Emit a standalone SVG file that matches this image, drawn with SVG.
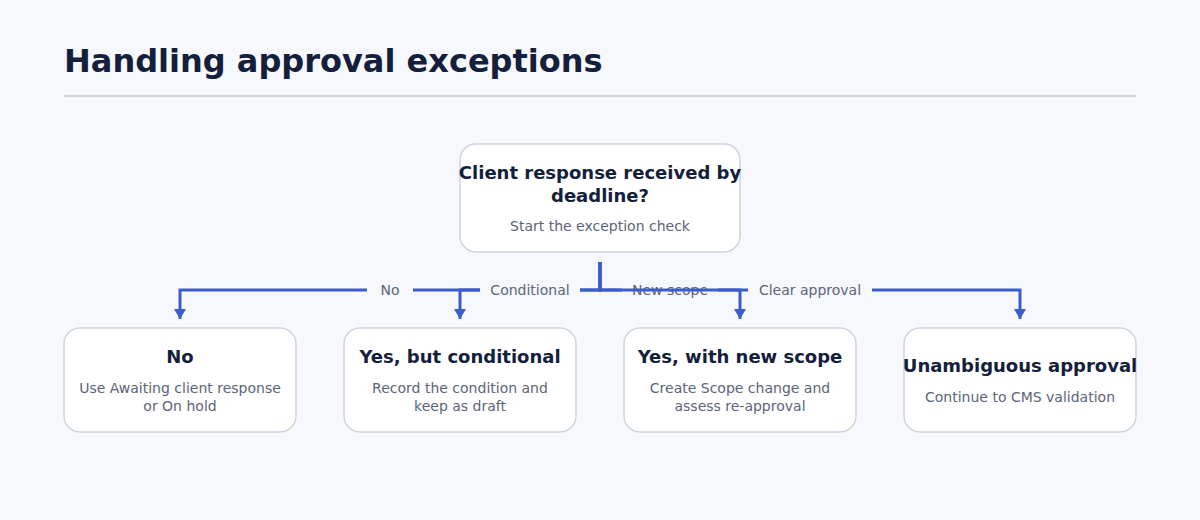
<svg xmlns="http://www.w3.org/2000/svg" width="1200" height="520" viewBox="0 0 1200 520">
<defs>
<style>
.bg{fill:#f6f8fc}
.node{fill:#ffffff;stroke:#cdd4df;stroke-width:1.5}
.t{font-family:"DejaVu Sans",Verdana,sans-serif;font-weight:bold;font-size:18px;fill:#13203b;text-anchor:middle}
.s{font-family:"DejaVu Sans",Verdana,sans-serif;font-size:14px;fill:#5b6577;text-anchor:middle}
.edge{fill:none;stroke:#3d5bcb;stroke-width:3}
.lbl{font-family:"DejaVu Sans",Verdana,sans-serif;font-size:14px;fill:#5b6577;text-anchor:middle}
.lbg{fill:#f6f8fc}
</style>
<marker id="arrd" viewBox="0 0 10 12" refX="10" refY="6" markerWidth="10" markerHeight="12" markerUnits="userSpaceOnUse" orient="auto">
<path d="M0 0 L10 6 L0 12 Z" fill="#3d5bcb"/>
</marker>
</defs>
<rect class="bg" x="0" y="0" width="1200" height="520"/>
<text x="64" y="72" font-family="DejaVu Sans,Verdana,sans-serif" font-weight="bold" font-size="32" fill="#13203b">Handling approval exceptions</text>
<line x1="64" y1="96" x2="1136" y2="96" stroke="#d0d5dd" stroke-width="2"/>

<g id="connectors">
<path class="edge" d="M600 262 V290 H180 V319" marker-end="url(#arrd)"/>
<rect class="lbg" x="367" y="280" width="46" height="20"/>
<text class="lbl" x="390" y="295">No</text>
<path class="edge" d="M600 262 V290 H460 V319" marker-end="url(#arrd)"/>
<rect class="lbg" x="480" y="280" width="100" height="20"/>
<text class="lbl" x="530" y="295">Conditional</text>
<path class="edge" d="M600 262 V290 H740 V319" marker-end="url(#arrd)"/>
<rect class="lbg" x="622" y="280" width="96" height="20"/>
<text class="lbl" x="670" y="295">New scope</text>
<path class="edge" d="M600 262 V290 H1020 V319" marker-end="url(#arrd)"/>
<rect class="lbg" x="748" y="280" width="124" height="20"/>
<text class="lbl" x="810" y="295">Clear approval</text>
</g>

<g id="start">
<rect class="node" x="460" y="144" width="280" height="108" rx="16"/>
<text class="t" x="600" y="179">Client response received by</text>
<text class="t" x="600" y="202">deadline?</text>
<text class="s" x="600" y="231">Start the exception check</text>
</g>
<g id="no">
<rect class="node" x="64" y="328" width="232" height="104" rx="16"/>
<text class="t" x="180" y="363">No</text>
<text class="s" x="180" y="393">Use Awaiting client response</text>
<text class="s" x="180" y="411">or On hold</text>
</g>
<g id="conditional">
<rect class="node" x="344" y="328" width="232" height="104" rx="16"/>
<text class="t" x="460" y="363">Yes, but conditional</text>
<text class="s" x="460" y="393">Record the condition and</text>
<text class="s" x="460" y="411">keep as draft</text>
</g>
<g id="newscope">
<rect class="node" x="624" y="328" width="232" height="104" rx="16"/>
<text class="t" x="740" y="363">Yes, with new scope</text>
<text class="s" x="740" y="393">Create Scope change and</text>
<text class="s" x="740" y="411">assess re-approval</text>
</g>
<g id="approval">
<rect class="node" x="904" y="328" width="232" height="104" rx="16"/>
<text class="t" x="1020" y="372">Unambiguous approval</text>
<text class="s" x="1020" y="402">Continue to CMS validation</text>
</g>
</svg>
